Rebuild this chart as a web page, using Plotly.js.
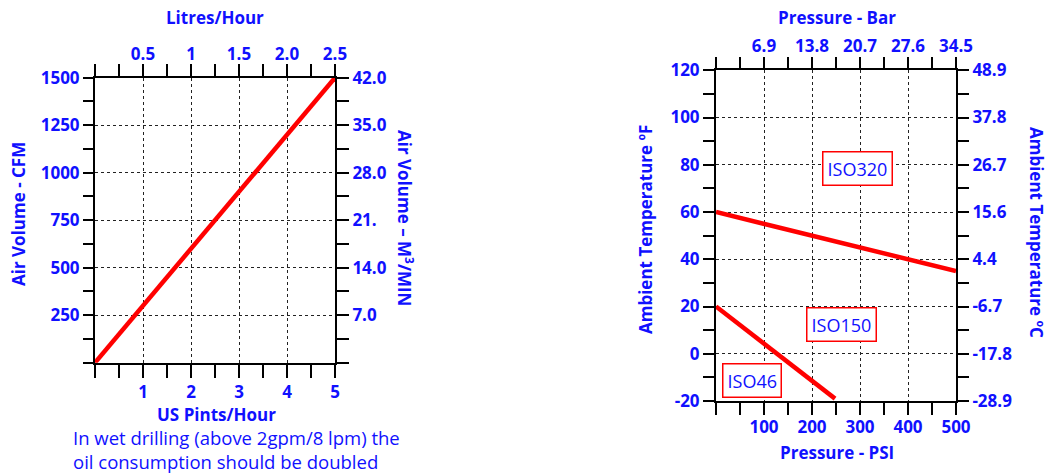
<!DOCTYPE html>
<html>
<head>
<meta charset="utf-8">
<script src="https://cdn.plot.ly/plotly-3.0.1.min.js"></script>
<style>html,body{margin:0;padding:0;background:#fff;}#chart{width:1047px;height:474px;}</style>
</head>
<body>
<div id="chart"></div>
<script>
// ---- Data (left chart: oil consumption vs air volume) ----
const pintsPerHour = [0, 5];
const airCFM = [0, 1500];
const pintsTickVals = [1, 2, 3, 4, 5];
const pintsTickText = ['1', '2', '3', '4', '5'];
const litresTickVals = [0.5, 1, 1.5, 2, 2.5];
const litresTickText = ['0.5', '1', '1.5', '2.0', '2.5'];
const cfmTickVals = [250, 500, 750, 1000, 1250, 1500];
const cfmTickText = ['250', '500', '750', '1000', '1250', '1500'];
const m3TickVals = [7, 14, 21, 28, 35, 42];
const m3TickText = ['7.0', '14.0', '21.', '28.0', '35.0', '42.0'];
const captionLines = ['In wet drilling (above 2gpm/8 lpm) the', 'oil consumption should be doubled'];

// ---- Data (right chart: oil grade vs pressure & ambient temperature) ----
const iso320Psi = [0, 500];
const iso320TempF = [60, 35];
const iso46Psi = [0, 248];
const iso46TempF = [20, -19];
const psiTickVals = [100, 200, 300, 400, 500];
const psiTickText = ['100', '200', '300', '400', '500'];
const barTickVals = [6.9, 13.8, 20.7, 27.6, 34.5];
const barTickText = ['6.9', '13.8', '20.7', '27.6', '34.5'];
const tempFTickVals = [-20, 0, 20, 40, 60, 80, 100, 120];
const tempFTickText = ['-20', '0', '20', '40', '60', '80', '100', '120'];
const tempCTickText = ['-28.9', '-17.8', '-6.7', '4.4', '15.6', '26.7', '37.8', '48.9'];
const gradeLabels = ['ISO320', 'ISO150', 'ISO46'];
const gradeLabelPsi = [294, 262, 76];
const gradeLabelTempF = [78.6, 12.4, -11.2];

// ---- Styling helpers ----
const W = 1047, H = 474;
const px = v => v / W;
const py = v => 1 - v / H;
const BLUE = '#1010ff';
const FONT = '"Open Sans", Lato, sans-serif';
const tickFont = {family: FONT, size: 17, color: BLUE, weight: 'bold'};
const titleFont = {family: FONT, size: 17, color: BLUE, weight: 'bold'};

function axis(opts) {
  const base = {
    showline: true, linecolor: '#000', linewidth: 2,
    ticks: 'outside', tickwidth: 2, tickcolor: '#000',
    tickmode: 'array', tickfont: tickFont,
    zeroline: false, fixedrange: true,
    showgrid: false, gridcolor: '#222', griddash: 'dot', gridwidth: 1
  };
  return Object.assign(base, opts);
}
function minor(dtick, len, tick0) {
  return {dtick: dtick, tick0: tick0 || 0, ticks: 'outside', ticklen: len, tickwidth: 2, tickcolor: '#000', showgrid: false};
}

const F2C = f => (f - 32) * 5 / 9;
const tempFRange = [-20, 120];
const tempCRange = tempFRange.map(F2C);
const tempCTickVals = tempFTickVals.map(F2C);

const traces = [
  {x: pintsPerHour, y: airCFM, xaxis: 'x', yaxis: 'y', mode: 'lines',
   line: {color: '#ff0000', width: 4.5}, hoverinfo: 'skip', showlegend: false},
  {x: [0, 2.5], y: [0, 42], xaxis: 'x2', yaxis: 'y2', mode: 'lines',
   line: {width: 0}, hoverinfo: 'skip', showlegend: false},
  {x: iso320Psi, y: iso320TempF, xaxis: 'x3', yaxis: 'y3', mode: 'lines',
   line: {color: '#ff0000', width: 4.5}, hoverinfo: 'skip', showlegend: false},
  {x: iso46Psi, y: iso46TempF, xaxis: 'x3', yaxis: 'y3', mode: 'lines',
   line: {color: '#ff0000', width: 4.5}, hoverinfo: 'skip', showlegend: false},
  {x: [0, 34.5], y: tempCRange, xaxis: 'x4', yaxis: 'y4', mode: 'lines',
   line: {width: 0}, hoverinfo: 'skip', showlegend: false}
];

const L = {x0: 95, x1: 335, y0: 77.7, y1: 362.7};
const R = {x0: 716, x1: 956, y0: 70.3, y1: 401};
const captionY = [437, 461];

const layout = {
  width: W, height: H,
  margin: {l: 0, r: 0, t: 0, b: 0},
  paper_bgcolor: '#fff', plot_bgcolor: '#fff',
  showlegend: false,
  font: {family: FONT, color: BLUE},
  xaxis: axis({domain: [px(L.x0), px(L.x1)], anchor: 'y', side: 'bottom', range: [0, 5],
    tickvals: pintsTickVals, ticktext: pintsTickText, ticklen: 13, ticklabelstandoff: 0,
    showgrid: true, minor: minor(0.5, 13)}),
  yaxis: axis({domain: [py(L.y1), py(L.y0)], anchor: 'x', side: 'left', range: [0, 1500],
    tickvals: cfmTickVals, ticktext: cfmTickText, ticklen: 10,
    showgrid: true, minor: minor(125, 10)}),
  xaxis2: axis({overlaying: 'x', anchor: 'y', side: 'top', range: [0, 2.5],
    tickvals: litresTickVals, ticktext: litresTickText, ticklen: 12, ticklabelstandoff: -3,
    minor: minor(0.25, 12)}),
  yaxis2: axis({overlaying: 'y', anchor: 'x', side: 'right', range: [0, 42],
    tickvals: m3TickVals, ticktext: m3TickText, ticklen: 12,
    minor: minor(3.5, 12)}),
  xaxis3: axis({domain: [px(R.x0), px(R.x1)], anchor: 'y3', side: 'bottom', range: [0, 500],
    tickvals: psiTickVals, ticktext: psiTickText, ticklen: 12, ticklabelstandoff: -2,
    showgrid: true, minor: minor(50, 12)}),
  yaxis3: axis({domain: [py(R.y1), py(R.y0)], anchor: 'x3', side: 'left', range: tempFRange,
    tickvals: tempFTickVals, ticktext: tempFTickText, ticklen: 11,
    showgrid: true, minor: minor(10, 11, -20)}),
  xaxis4: axis({overlaying: 'x3', anchor: 'y3', side: 'top', range: [0, 34.5],
    tickvals: barTickVals, ticktext: barTickText, ticklen: 11, ticklabelstandoff: -1,
    minor: minor(3.45, 11)}),
  yaxis4: axis({overlaying: 'y3', anchor: 'x3', side: 'right', range: tempCRange,
    tickvals: tempCTickVals, ticktext: tempCTickText, ticklen: 11,
    minor: minor(50 / 9, 11, tempCRange[0])}),
  annotations: [
    {text: 'Litres/Hour', x: px(215), y: py(18)},
    {text: 'US Pints/Hour', x: px(216), y: py(414)},
    {text: 'Air Volume - CFM', x: px(18), y: py(214), textangle: -90},
    {text: 'Air Volume \u2013 M<sup>3</sup>/MIN', x: px(405), y: py(218), textangle: 90},
    {text: 'Pressure - Bar', x: px(837), y: py(18)},
    {text: 'Pressure - PSI', x: px(837), y: py(452)},
    {text: 'Ambient Temperature \u00baF', x: px(645), y: py(230), textangle: -90},
    {text: 'Ambient Temperature \u00baC', x: px(1037), y: py(232), textangle: 90}
  ].map(a => Object.assign({xref: 'paper', yref: 'paper', xanchor: 'center', yanchor: 'middle',
    showarrow: false, font: titleFont}, a))
  .concat(captionLines.map((t, i) => ({text: t, xref: 'paper', yref: 'paper',
    x: px(71), y: py(captionY[i]), xanchor: 'left', yanchor: 'middle', showarrow: false,
    font: {family: FONT, size: 18.5, color: BLUE}})))
  .concat(gradeLabels.map((t, i) => ({text: t, xref: 'x3', yref: 'y3',
    x: gradeLabelPsi[i], y: gradeLabelTempF[i], xanchor: 'center', yanchor: 'middle',
    showarrow: false, bgcolor: '#fff', bordercolor: '#ff0000', borderwidth: 1.5, borderpad: 4,
    font: {family: FONT, size: 18, color: BLUE}})))
};

Plotly.newPlot('chart', traces, layout, {staticPlot: true, displayModeBar: false});
</script>
</body>
</html>
